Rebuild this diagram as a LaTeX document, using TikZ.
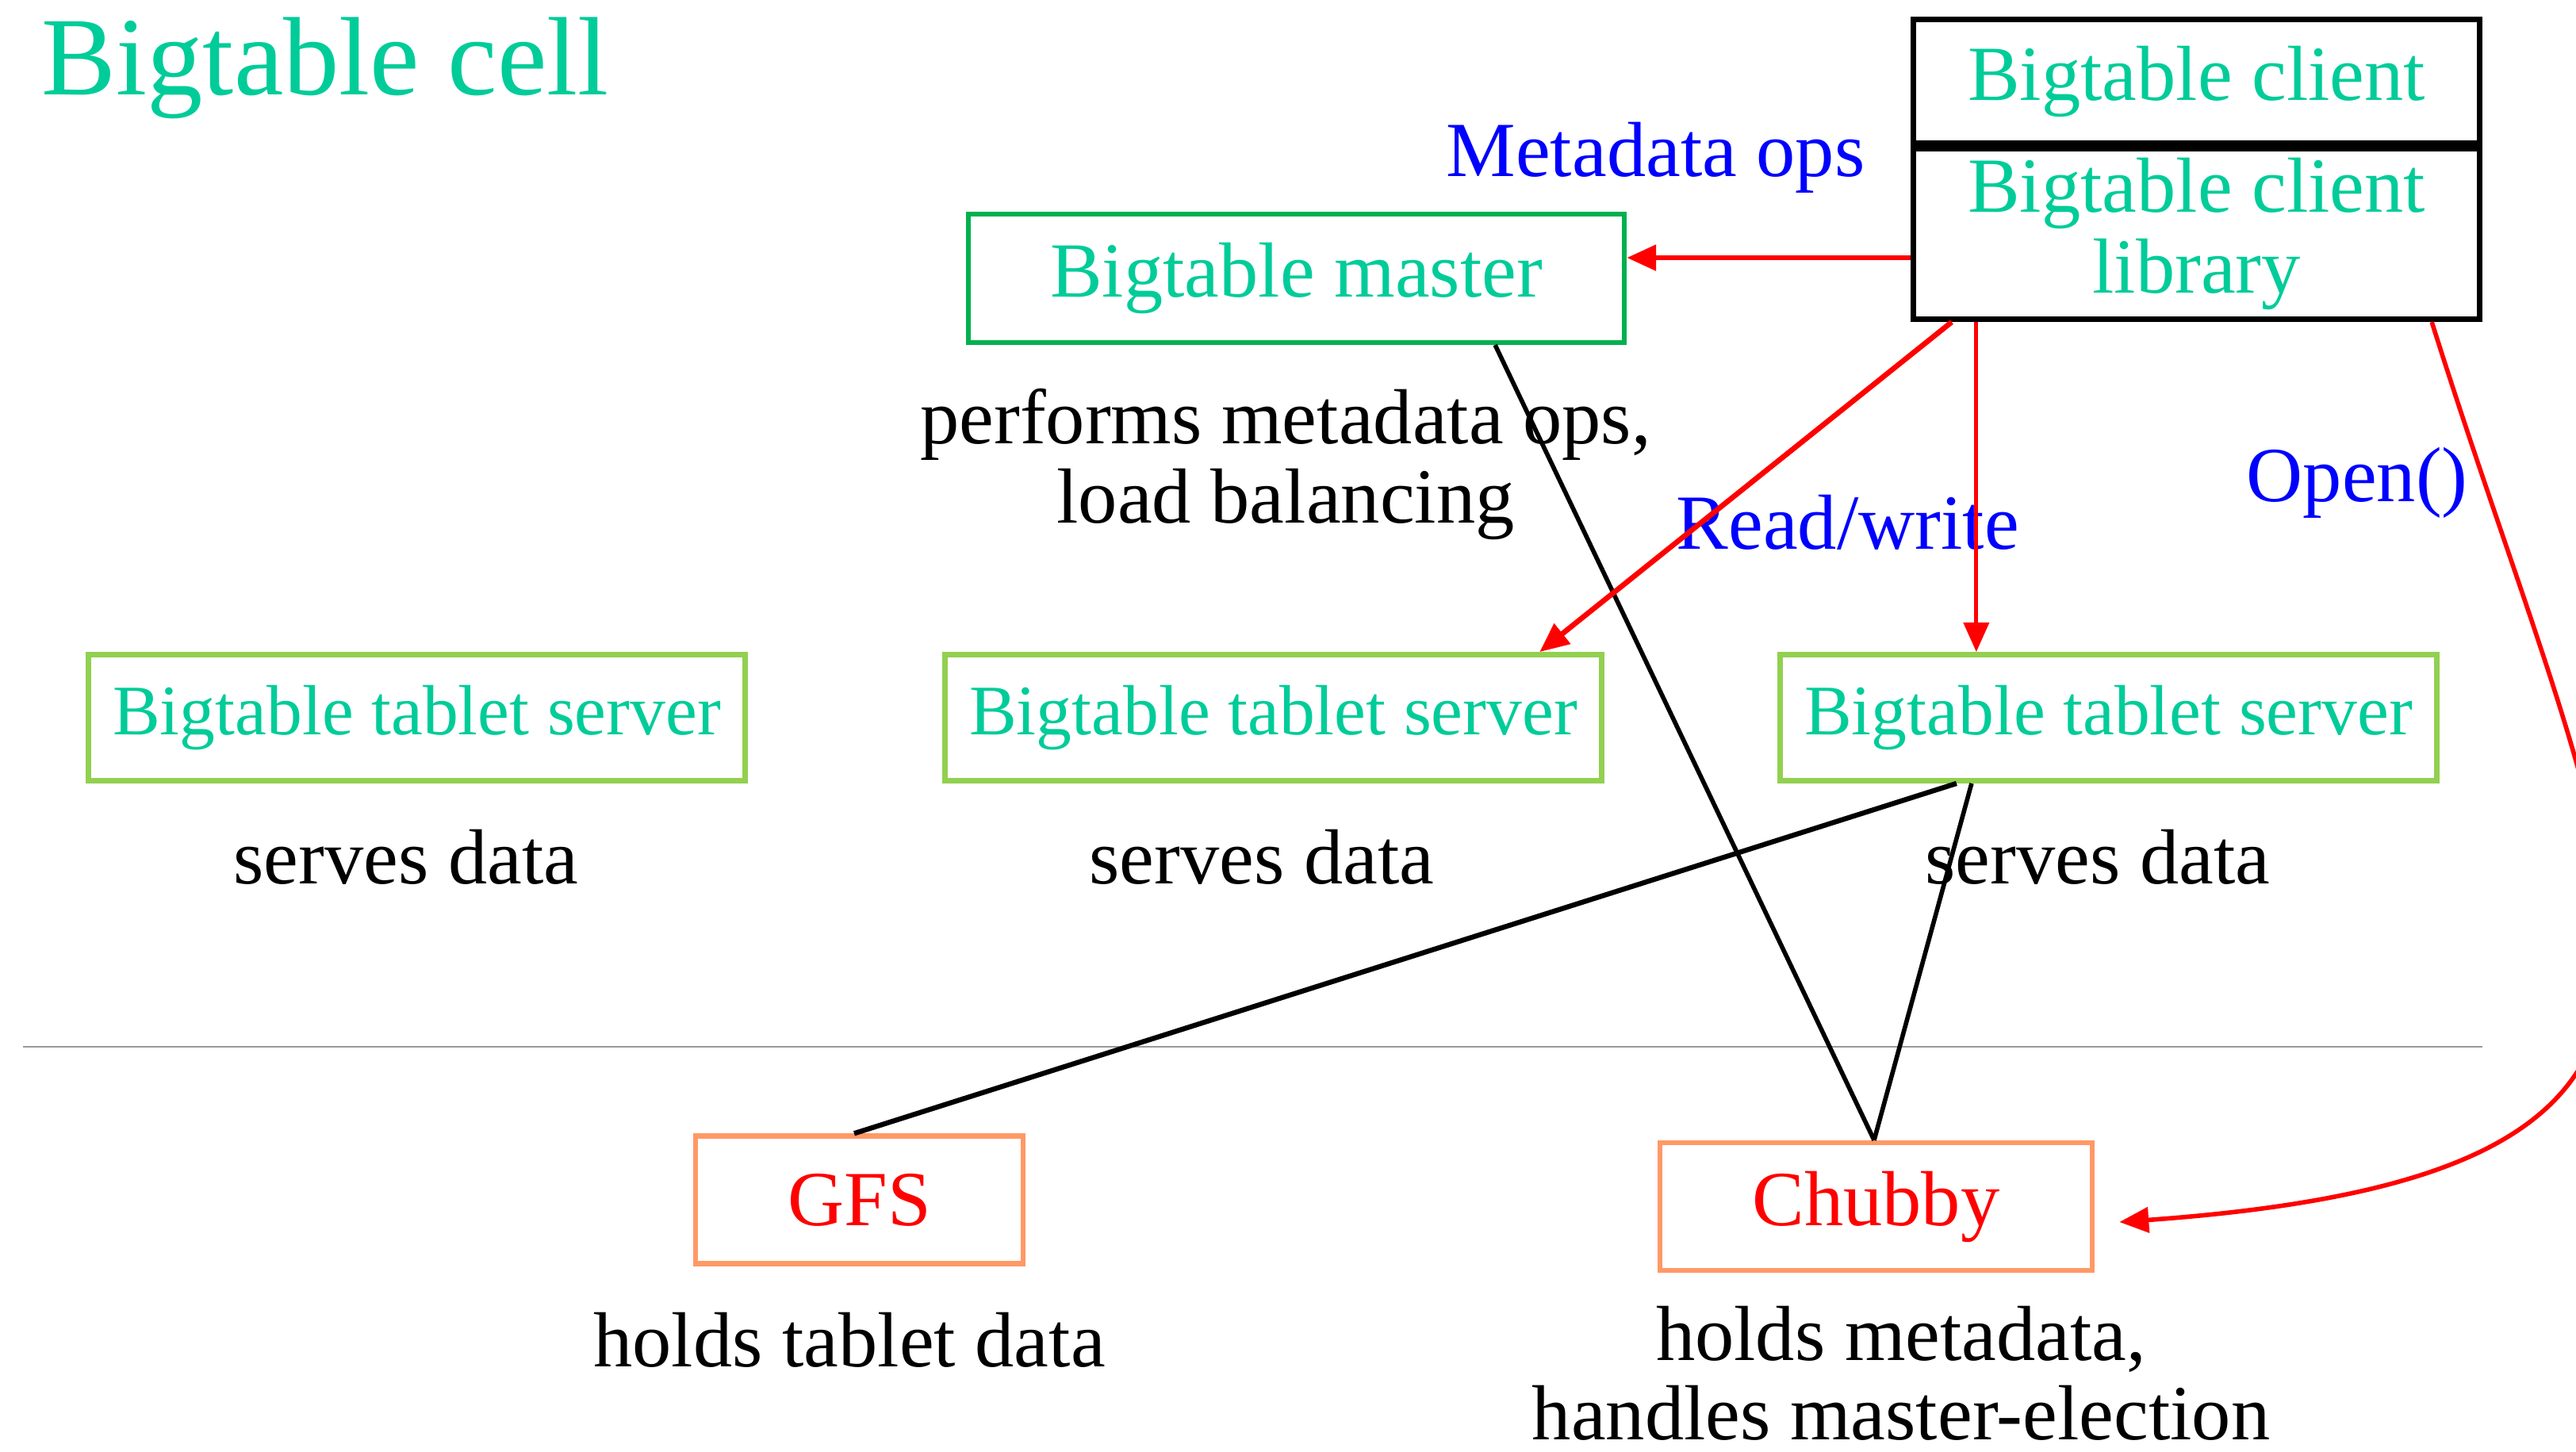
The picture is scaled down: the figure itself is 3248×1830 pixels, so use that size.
\documentclass[tikz,border=0pt]{standalone}
\usepackage{fontspec}
\setmainfont{Liberation Serif}
\usetikzlibrary{arrows.meta}
\definecolor{tealtxt}{HTML}{00CC99}
\definecolor{mgreen}{HTML}{00B050}
\definecolor{lgreen}{HTML}{92D050}
\definecolor{lorange}{HTML}{FF9966}
\definecolor{sepgray}{HTML}{999999}
\begin{document}
\begin{tikzpicture}[x=0.01cm, y=-0.01cm,
  basebox/.style={draw, inner sep=0pt, align=center, text=tealtxt, font=\fontsize{28}{29}\selectfont},
  clientbox/.style={basebox, draw=black, line width=2pt, minimum width=7.14cm},
  masterbox/.style={basebox, draw=mgreen, line width=1.7pt, minimum width=8.27cm, minimum height=1.62cm},
  tsbox/.style={basebox, draw=lgreen, line width=1.9pt, minimum width=8.28cm, minimum height=1.59cm, font=\fontsize{25.5}{26}\selectfont},
  storebox/.style={basebox, draw=lorange, line width=1.8pt, minimum height=1.61cm, text=red},
  lbl/.style={inner sep=0pt, align=center, font=\fontsize{28}{28.4}\selectfont},
  bluelbl/.style={lbl, text=blue},
  redarrow/.style={draw=red, line width=1.9pt, -{Triangle[length=10.5pt,width=9pt]}},
  blackline/.style={draw=black, line width=1.6pt}
]
\useasboundingbox (0,0) rectangle (3248,1830);

% title
\node[lbl, anchor=base west, text=tealtxt, font=\fontsize{40}{40}\selectfont] (title) at (52,120) {Bigtable cell};

% client boxes
\node[clientbox, minimum height=1.56cm] (client) at (2769.5,102.5) {Bigtable client};
\node[clientbox, minimum height=2.15cm] (lib) at (2769.5,295) {Bigtable client\\library};

% master
\node[masterbox] (master) at (1634.5,351) {Bigtable master};
\node[lbl, anchor=base] (masterlbl) at (1621,659) {performs metadata ops,\\load balancing};

% tablet servers
\node[tsbox] (ts1) at (525.5,905) {Bigtable tablet server};
\node[tsbox] (ts2) at (1605.5,905) {Bigtable tablet server};
\node[tsbox] (ts3) at (2658.5,905) {Bigtable tablet server};
\node[lbl, anchor=base] (sd1) at (512,1114) {serves data};
\node[lbl, anchor=base] (sd2) at (1591,1114) {serves data};
\node[lbl, anchor=base] (sd3) at (2645,1114) {serves data};

% separator
\coordinate (sepL) at (29,1320);
\coordinate (sepR) at (3130,1320);
\draw[sepgray, line width=0.8pt] (sepL) -- (sepR);

% storage
\node[storebox, minimum width=4.13cm] (gfs) at (1083.5,1513) {GFS};
\node[storebox, minimum width=5.45cm] (chubby) at (2365.5,1521.5) {Chubby};
\node[lbl, anchor=base] (gfslbl) at (1071,1723) {holds tablet data};
\node[lbl, anchor=base] (chubbylbl) at (2397,1815) {holds metadata,\\handles master-election};

% blue labels
\node[bluelbl, anchor=base west] (metaops) at (1823,222) {Metadata ops};
\node[bluelbl, anchor=base west] (rw) at (2113,692) {Read/write};
\node[bluelbl, anchor=base west] (open) at (2832,632) {Open()};

% black connectors
\draw[blackline] ([xshift=2.505cm]master.south) -- ([xshift=-0.025cm]chubby.north);
\draw[blackline, line width=1.8pt] ([xshift=-1.915cm]ts3.south) -- ([xshift=-0.065cm]gfs.north);
\draw[blackline] ([xshift=-1.725cm]ts3.south) -- ([xshift=-0.025cm]chubby.north);

% red arrows
\draw[redarrow] ([yshift=-0.3cm]lib.west) -- ([yshift=-0.3cm]lib.west -| master.east);
\draw[redarrow] ([xshift=-3.085cm]lib.south) -- ([xshift=3.355cm]ts2.north);
\draw[redarrow, line width=1.4pt] ([xshift=-2.775cm]lib.south) -- ([xshift=-2.775cm]lib.south |- ts3.north);
\draw[redarrow, line width=1.6pt] ([xshift=2.965cm]lib.south) .. controls (3300,1150) and (3545,1478) .. ([xshift=0.31cm,yshift=-0.195cm]chubby.east);
\end{tikzpicture}
\end{document}
